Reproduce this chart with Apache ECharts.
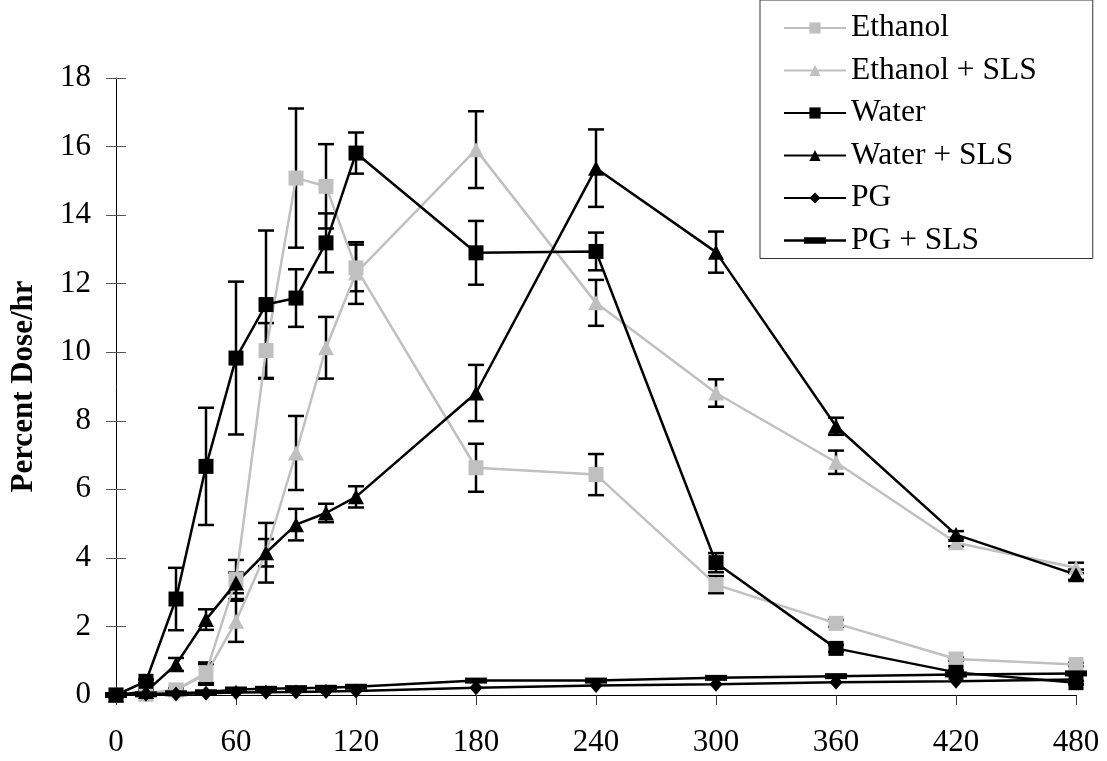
<!DOCTYPE html>
<html>
<head>
<meta charset="utf-8">
<script src="https://cdn.jsdelivr.net/npm/echarts@6/dist/echarts.min.js"></script>
<style>
  html, body { margin: 0; padding: 0; background: #fff; }
  #doseChart { width: 1107px; height: 761px; }
</style>
</head>
<body>
<div id="doseChart"></div>
<script>
  const times = [0, 15, 30, 45, 60, 75, 90, 105, 120, 180, 240, 300, 360, 420, 480];

  const ethanol = [0, 0.05, 0.15, 0.65, 3.37, 10.05, 15.08, 14.84, 12.46, 6.63, 6.43, 3.22, 2.09, 1.05, 0.89];
  const ethanolErr = [0, 0, 0.05, 0.3, 0.57, 0.8, 2.03, 1.23, 0.68, 0.7, 0.6, 0.25, 0.1, 0.05, 0.05];

  const ethanolSls = [0, 0.02, 0.15, 0.6, 2.15, 4.15, 7.06, 10.13, 12.31, 15.91, 11.44, 8.81, 6.79, 4.44, 3.71];
  const ethanolSlsErr = [0, 0, 0.05, 0.3, 0.6, 0.87, 1.08, 0.9, 0.9, 1.12, 0.67, 0.4, 0.34, 0.1, 0.15];

  const water = [0, 0.4, 2.8, 6.67, 9.83, 11.39, 11.58, 13.19, 15.81, 12.9, 12.94, 3.86, 1.36, 0.66, 0.36];
  const waterErr = [0, 0.05, 0.91, 1.71, 2.23, 2.16, 0.84, 0.86, 0.6, 0.93, 0.55, 0.28, 0.1, 0.05, 0.05];

  const waterSls = [0, 0.1, 0.89, 2.2, 3.27, 4.15, 4.97, 5.31, 5.78, 8.81, 15.37, 12.92, 7.84, 4.68, 3.51];
  const waterSlsErr = [0, 0.05, 0.19, 0.3, 0.3, 0.4, 0.46, 0.27, 0.31, 0.82, 1.13, 0.6, 0.25, 0.1, 0.15];

  const pg = [0, 0.02, 0.03, 0.05, 0.07, 0.08, 0.09, 0.1, 0.12, 0.21, 0.28, 0.31, 0.37, 0.4, 0.45];
  const pgSls = [0, 0.02, 0.05, 0.08, 0.16, 0.18, 0.2, 0.21, 0.24, 0.42, 0.42, 0.5, 0.55, 0.6, 0.63];

  const xTicks = [0, 60, 120, 180, 240, 300, 360, 420, 480];
  const yTicks = [0, 2, 4, 6, 8, 10, 12, 14, 16, 18];

  const gray = "#c0c0c0";
  const black = "#000";
  const font = "'Liberation Serif', 'Times New Roman', serif";

  let myChart = echarts.init(document.getElementById('doseChart'), null, { renderer: 'canvas' });

  function pairs(values) {
    return times.map((t, i) => [t, values[i]]);
  }

  function errorSeries(values, errs) {
    return {
      type: "custom",
      z: 1,
      silent: true,
      data: times.map((t, i) => [t, values[i], errs[i]]),
      renderItem(params, api) {
        const x = api.value(0);
        const y = api.value(1);
        const e = api.value(2);
        if (!e) {
          return null;
        }
        const hi = api.coord([x, y + e]);
        const lo = api.coord([x, y - e]);
        const half = 8;
        const style = { stroke: black, lineWidth: 2.5 };
        return {
          type: "group",
          children: [
            { type: "line", shape: { x1: hi[0], y1: hi[1], x2: lo[0], y2: lo[1] }, style },
            { type: "line", shape: { x1: hi[0] - half, y1: hi[1], x2: hi[0] + half, y2: hi[1] }, style },
            { type: "line", shape: { x1: lo[0] - half, y1: lo[1], x2: lo[0] + half, y2: lo[1] }, style }
          ]
        };
      }
    };
  }

  function lineSeries(name, values, color, symbol, symbolSize) {
    return {
      type: "line",
      name,
      z: 2,
      data: pairs(values),
      symbol,
      symbolSize,
      showAllSymbol: true,
      color,
      lineStyle: { color, width: 2.5 },
      itemStyle: { color },
      emphasis: { disabled: true }
    };
  }

  const axisLabelStyle = {
    fontFamily: font,
    fontSize: 31,
    color: black
  };

  const option = {
    animation: false,
    backgroundColor: "#fff",
    grid: {
      left: 111,
      right: 31,
      top: 78,
      bottom: 66
    },
    legend: {
      orient: "vertical",
      left: 760,
      top: 0,
      padding: [12, 56, 2, 23],
      itemWidth: 62,
      itemHeight: 14,
      itemGap: 10.5,
      borderColor: "#333",
      borderWidth: 1,
      backgroundColor: "#fff",
      textStyle: {
        fontFamily: font,
        fontSize: 31.5,
        color: black
      },
      data: [
        "Ethanol",
        "Ethanol + SLS",
        "Water",
        "Water + SLS",
        "PG",
        { name: "PG + SLS", icon: "path://M0,7H62V9.5H0ZM20,5H42V11.5H20Z" }
      ]
    },
    xAxis: {
      type: "value",
      min: 0,
      max: 480,
      interval: 60,
      axisLine: { show: true, lineStyle: { color: black, width: 1 } },
      axisTick: { show: true, inside: false, length: 10, lineStyle: { color: "#333" } },
      axisLabel: Object.assign({ margin: 32, formatter: v => (xTicks.includes(v) ? String(v) : "") }, axisLabelStyle),
      splitLine: { show: false }
    },
    yAxis: [
      {
        type: "value",
        min: 0,
        max: 18,
        interval: 2,
        name: "Percent Dose/hr",
        nameLocation: "middle",
        nameGap: 77,
        nameRotate: 90,
        nameTextStyle: {
          fontFamily: font,
          fontSize: 31,
          fontWeight: "bold",
          color: black
        },
        axisLine: { show: true, lineStyle: { color: black, width: 1 } },
        axisTick: { show: true, inside: false, length: 10, lineStyle: { color: "#555" } },
        axisLabel: Object.assign({ margin: 25, formatter: v => (yTicks.includes(v) ? String(v) : "") }, axisLabelStyle),
        splitLine: { show: false }
      },
      {
        // inner half of the crossing ticks
        type: "value",
        position: "left",
        min: 0,
        max: 18,
        interval: 2,
        axisLine: { show: false },
        axisTick: { show: true, inside: true, length: 10, lineStyle: { color: "#555" } },
        axisLabel: { show: false },
        splitLine: { show: false }
      }
    ],
    series: [
      errorSeries(ethanol, ethanolErr),
      errorSeries(ethanolSls, ethanolSlsErr),
      errorSeries(water, waterErr),
      errorSeries(waterSls, waterSlsErr),
      lineSeries("Ethanol", ethanol, gray, "rect", [15, 15]),
      lineSeries("Ethanol + SLS", ethanolSls, gray, "triangle", [16, 15]),
      lineSeries("Water", water, black, "rect", [15, 15]),
      lineSeries("Water + SLS", waterSls, black, "triangle", [16, 15]),
      lineSeries("PG", pg, black, "diamond", [13, 15]),
      lineSeries("PG + SLS", pgSls, black, "rect", [22, 6])
    ]
  };

  myChart.setOption(option);
  window.addEventListener("resize", myChart.resize);
</script>
</body>
</html>
